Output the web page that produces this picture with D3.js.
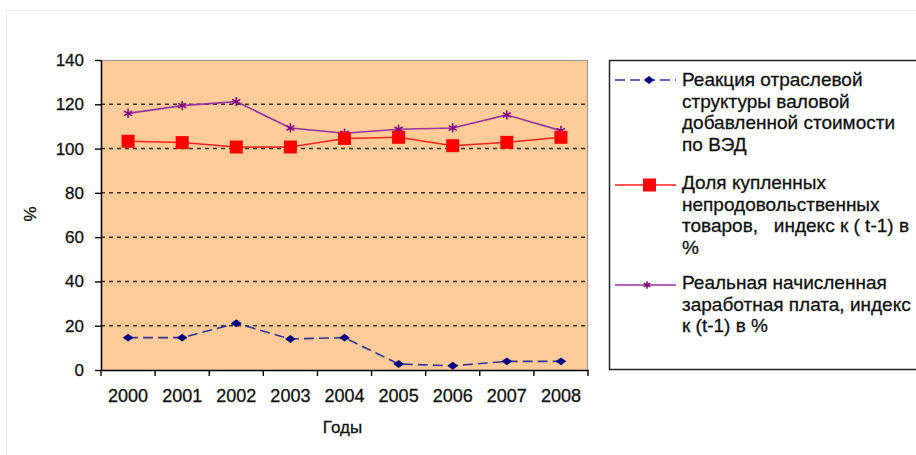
<!DOCTYPE html>
<html>
<head>
<meta charset="utf-8">
<script src="https://cdn.jsdelivr.net/npm/d3@7"></script>
<style>
  html, body { margin: 0; padding: 0; background: #fff; }
  svg { display: block; font-family: "Liberation Sans", Arial, sans-serif; }
  text { white-space: pre; }
</style>
</head>
<body>
<svg id="chart" width="916" height="455"></svg>
<script>
const years = ["2000","2001","2002","2003","2004","2005","2006","2007","2008"];
const reaction = [14.6, 14.6, 21.1, 14.0, 14.6, 2.7, 1.9, 3.9, 3.9];
const goodsShare = [103.3, 102.7, 100.7, 100.7, 104.6, 105.1, 101.3, 102.8, 105.1];
const realWage = [115.9, 119.4, 121.2, 109.3, 106.9, 108.7, 109.3, 115.2, 108.1];
const yTicks = [0, 20, 40, 60, 80, 100, 120, 140];
const gridTicks = [20, 40, 60, 80, 100, 120];
const legendLines = [
  ["Реакция отраслевой", "структуры валовой", "добавленной стоимости", "по ВЭД"],
  ["Доля купленных", "непродовольственных", "товаров,   индекс к ( t-1) в", "%"],
  ["Реальная начисленная", "заработная плата, индекс", "к (t-1) в %"]
];
const xTitle = "Годы";
const yTitle = "%";

const svg = d3.select("#chart");
const INK = "#111";

// outer chart frame
svg.append("rect").attr("x", 6.5).attr("y", 10.5).attr("width", 930).attr("height", 460)
  .attr("fill", "#fff").attr("stroke", "#ececec");

const L = 101, R = 588, T = 60, B = 370;
const x = d3.scaleBand().domain(years).range([L, R]).padding(0);
const y = d3.scaleLinear().domain([0, 140]).range([B, T]);
const cx = d => x(d) + x.bandwidth() / 2;

// plot background
svg.append("rect").attr("x", L).attr("y", T).attr("width", R - L).attr("height", B - T)
  .attr("fill", "#FFCC99");
// top and right border (gray)
svg.append("path").attr("d", `M${L},${T + 0.5}H${R - 0.5}V${B}`)
  .attr("fill", "none").attr("stroke", "#9a9a9a").attr("stroke-width", 1.2);

// gridlines
svg.append("g").selectAll("line").data(gridTicks).join("line")
  .attr("x1", L).attr("x2", R).attr("y1", d => y(d)).attr("y2", d => y(d))
  .attr("stroke", "#333").attr("stroke-width", 1.5).attr("stroke-dasharray", "4,4");

function ink(sel) {
  sel.attr("fill", INK).attr("stroke", INK).attr("stroke-width", 0.3);
}

// y axis
const yAxis = svg.append("g").attr("transform", `translate(${L},0)`)
  .call(d3.axisLeft(y).tickValues(yTicks).tickSize(6).tickPadding(11).tickSizeOuter(0));
yAxis.select(".domain").attr("stroke", "#000").attr("stroke-width", 1.6);
yAxis.selectAll(".tick line").attr("stroke", "#000").attr("stroke-width", 1.4);
yAxis.selectAll(".tick text").attr("font-size", 17)
  .attr("font-family", "Liberation Sans, Arial, sans-serif").call(ink);

// x axis
const xAxis = svg.append("g").attr("transform", `translate(0,${B})`)
  .call(d3.axisBottom(x).tickSize(0).tickPadding(19).tickSizeOuter(0));
xAxis.select(".domain").attr("stroke", "#000").attr("stroke-width", 1.6);
xAxis.selectAll(".tick text").attr("font-size", 18)
  .attr("font-family", "Liberation Sans, Arial, sans-serif").call(ink);
const boundaries = years.map(d => x(d)).concat([x.range()[1]]);
xAxis.append("g").selectAll("line").data(boundaries).join("line")
  .attr("x1", d => d).attr("x2", d => d).attr("y1", 0).attr("y2", 6)
  .attr("stroke", "#000").attr("stroke-width", 1.4);

// axis titles
svg.append("text").attr("x", cx("2004") - 2).attr("y", 433).attr("text-anchor", "middle")
  .attr("font-size", 17).text(xTitle).call(ink);
svg.append("text").attr("transform", "translate(36,214) rotate(-90)").attr("text-anchor", "middle")
  .attr("font-size", 17).text(yTitle).call(ink);

const line = d3.line().x((d, i) => cx(years[i])).y(d => y(d));

// series 3: real wage (purple)
svg.append("path").datum(realWage).attr("d", line).attr("fill", "none")
  .attr("stroke", "#9933A0").attr("stroke-width", 1.6);
svg.append("g").selectAll("path").data(realWage).join("path")
  .attr("transform", (d, i) => `translate(${cx(years[i])},${y(d)})`)
  .attr("d", d3.symbol(d3.symbolAsterisk, 60)())
  .attr("fill", "none").attr("stroke", "#800080").attr("stroke-width", 1.5);

// series 2: goods share (red)
svg.append("path").datum(goodsShare).attr("d", line).attr("fill", "none")
  .attr("stroke", "#FF2020").attr("stroke-width", 1.5);
svg.append("g").selectAll("rect").data(goodsShare).join("rect")
  .attr("x", (d, i) => cx(years[i]) - 6.5).attr("y", d => y(d) - 6.5)
  .attr("width", 13).attr("height", 13).attr("fill", "#FF0000");

// series 1: reaction (navy dashed)
svg.append("path").datum(reaction).attr("d", line).attr("fill", "none")
  .attr("stroke", "#333399").attr("stroke-width", 1.6).attr("stroke-dasharray", "10,5");
svg.append("g").selectAll("path").data(reaction).join("path")
  .attr("transform", (d, i) => `translate(${cx(years[i])},${y(d)}) scale(1.15,0.85)`)
  .attr("d", d3.symbol(d3.symbolDiamond2, 55)())
  .attr("fill", "#000080");

// legend
svg.append("rect").attr("x", 609.5).attr("y", 60.5).attr("width", 340).attr("height", 309)
  .attr("fill", "#fff").attr("stroke", "#222").attr("stroke-width", 1.5);

const legendY = [80, 185, 285];
const textTops = [86, 189, 289];
const lg = svg.append("g");
// entry 1
lg.append("line").attr("x1", 615).attr("x2", 676).attr("y1", legendY[0]).attr("y2", legendY[0])
  .attr("stroke", "#333399").attr("stroke-width", 1.6).attr("stroke-dasharray", "10,5");
lg.append("path").attr("transform", `translate(649,${legendY[0]}) scale(1.15,0.85)`)
  .attr("d", d3.symbol(d3.symbolDiamond2, 55)()).attr("fill", "#000080");
// entry 2
lg.append("line").attr("x1", 615).attr("x2", 676).attr("y1", legendY[1]).attr("y2", legendY[1])
  .attr("stroke", "#FF2020").attr("stroke-width", 1.5);
lg.append("rect").attr("x", 643).attr("y", legendY[1] - 6.5).attr("width", 13).attr("height", 13)
  .attr("fill", "#FF0000");
// entry 3
lg.append("line").attr("x1", 615).attr("x2", 676).attr("y1", legendY[2]).attr("y2", legendY[2])
  .attr("stroke", "#9933A0").attr("stroke-width", 1.6);
lg.append("path").attr("transform", `translate(647,${legendY[2]})`)
  .attr("d", d3.symbol(d3.symbolAsterisk, 40)()).attr("fill", "none")
  .attr("stroke", "#800080").attr("stroke-width", 1.5);

legendLines.forEach((lines, k) => {
  lines.forEach((s, j) => {
    lg.append("text").attr("x", 682).attr("y", textTops[k] + j * 21.6)
      .attr("font-size", 19).text(s).call(ink);
  });
});
</script>
</body>
</html>
